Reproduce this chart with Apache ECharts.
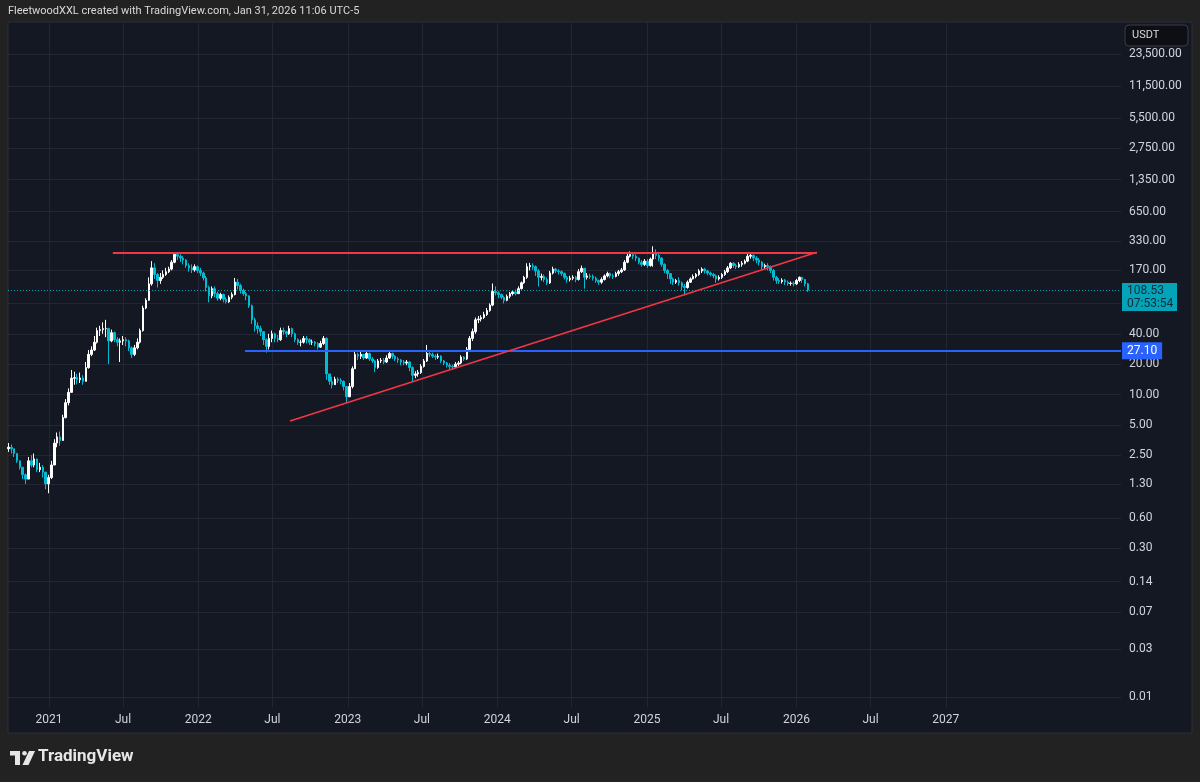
<!DOCTYPE html>
<html>
<head>
<meta charset="utf-8">
<title>SOL / USDT weekly</title>
<script src="https://cdn.jsdelivr.net/npm/echarts@6/dist/echarts.min.js"></script>
<style>
  html, body { margin: 0; padding: 0; background: #222222; }
  #main { width: 1200px; height: 782px; }
</style>
</head>
<body>
<div id="main"></div>
<script>
  // weekly candles, one per week starting from firstWeek (mid-week date)
  var firstWeek = '2020-09-24';
  var firstOpen = 2.9;
  var closes = [
    3.0, 2.9, 2.6, 2.2, 1.9, 1.6, 1.45, 2.2, 2.0, 2.3,
    1.8, 1.9, 1.7, 1.3, 1.5, 2.0, 3.3, 3.8, 3.5, 5.9,
    8.3, 10.5, 14.5, 14.7, 14.0, 14.6, 13.5, 18.5, 25, 27.6,
    33, 43, 44, 45, 45, 34, 41, 35, 33, 34,
    35, 34, 29, 25, 29, 33, 43, 72, 86, 125,
    180, 155, 135, 145, 155, 165, 175, 205, 245, 235,
    225, 215, 190, 180, 172, 185, 170, 160, 143, 115,
    95, 112, 100, 90, 98, 88, 83, 92, 98, 130,
    120, 108, 100, 95, 76, 55, 48, 45, 42, 35,
    30, 36, 40, 36, 35, 43, 42, 40, 45, 40,
    35, 33, 33, 36, 35, 33, 33, 32, 29.5, 32,
    36, 16, 13.5, 12.5, 14.2, 13.8, 13.5, 12, 9.5, 12,
    18, 25, 24, 25, 23, 25.5, 22.5, 21.5, 18.5, 21.5,
    21.8, 21, 23, 25.5, 24, 22.5, 22, 21, 20.5, 21,
    18.5, 15.5, 16, 16.5, 19, 21.5, 25.5, 25, 24, 23.5,
    24, 21.5, 20.5, 19.5, 19, 18.8, 20, 20.5, 23.5, 22.5,
    28, 36, 42, 55, 56, 58, 62, 68, 77, 105,
    102, 98, 92, 86, 94, 100, 104, 100, 112, 128,
    145, 185, 190, 185, 168, 145, 148, 138, 128, 160,
    175, 168, 165, 158, 145, 138, 142, 145, 138, 165,
    178, 145, 150, 148, 142, 135, 130, 138, 150, 158,
    150, 148, 158, 165, 172, 205, 235, 245, 235, 225,
    205, 195, 210, 190, 220, 255, 240, 225, 195, 170,
    158, 140, 130, 135, 128, 118, 115, 130, 140, 148,
    155, 168, 175, 168, 160, 155, 150, 140, 145, 155,
    165, 180, 200, 190, 185, 195, 200, 210, 235, 240,
    225, 215, 205, 185, 190, 185, 170, 145, 135, 132,
    136, 130, 126, 127, 125, 135, 145, 138, 125, 108.53
  ];
  var highs = [
    3.3, 3.2, 2.9, 2.6, 2.2, 1.9, 1.65, 2.4, 2.5, 2.6,
    2.3, 2.1, 2.0, 1.7, 1.6, 2.2, 3.6, 4.2, 4.3, 6.3,
    9.0, 11.5, 17.5, 16.8, 16, 16.5, 15.5, 21, 27.6, 30,
    38, 46, 48, 52, 55, 46, 44, 42, 37, 36,
    38, 37, 35, 30, 31, 36, 45, 76, 90, 145,
    210, 200, 160, 160, 170, 180, 185, 215, 258, 255,
    245, 235, 220, 200, 195, 195, 190, 180, 165, 150,
    120, 118, 118, 105, 102, 100, 92, 96, 103, 143,
    140, 125, 112, 104, 96, 78, 58, 52, 48, 42,
    36, 40, 43, 41, 39, 46, 46, 43, 48, 46,
    41, 36, 35, 38, 38, 36, 35, 34, 33, 34,
    38, 37, 16, 15, 15, 14.8, 14.5, 13.8, 12, 13,
    19, 26.5, 26, 26.5, 25, 27, 26, 23.5, 22, 22.5,
    23, 23, 24.5, 26.5, 26, 24.5, 23.5, 22.5, 22, 22,
    21.5, 19, 17, 17.5, 20, 22.5, 31, 27, 26, 25,
    25.5, 24.5, 22, 21, 20.5, 19.8, 21, 21.5, 24.5, 24,
    29.5, 38, 45, 58, 60, 61, 66, 72, 80, 126,
    118, 106, 100, 95, 98, 104, 108, 110, 118, 132,
    150, 200, 202, 200, 190, 175, 158, 155, 145, 168,
    185, 180, 175, 170, 162, 150, 150, 152, 150, 175,
    190, 180, 160, 158, 155, 148, 138, 145, 155, 165,
    162, 158, 165, 172, 180, 215, 248, 262, 255, 245,
    228, 215, 220, 220, 228, 295, 275, 250, 230, 200,
    175, 160, 145, 140, 145, 132, 125, 135, 145, 155,
    160, 175, 182, 180, 172, 165, 160, 155, 152, 160,
    172, 188, 205, 205, 198, 205, 210, 218, 250, 253,
    245, 235, 225, 210, 198, 200, 190, 175, 150, 142,
    142, 140, 135, 132, 132, 140, 148, 147, 140, 128
  ];
  var lows = [
    2.7, 2.6, 2.4, 2.1, 1.8, 1.45, 1.3, 1.45, 1.9, 1.9,
    1.7, 1.7, 1.5, 1.15, 1.05, 1.45, 2.0, 3.0, 3.1, 3.5,
    5.8, 7.8, 10.5, 12.5, 12.6, 13, 12.5, 13.5, 18, 24,
    27, 32, 38, 40, 37, 20, 33, 33, 30, 21,
    31, 30, 27, 23, 24, 28, 32, 42, 70, 85,
    120, 140, 115, 125, 140, 150, 160, 170, 200, 215,
    205, 195, 180, 165, 160, 165, 160, 150, 135, 105,
    82, 90, 92, 85, 86, 82, 80, 81, 88, 96,
    110, 100, 95, 86, 72, 50, 42, 40, 38, 31,
    26, 28, 33, 33, 33, 34, 39, 37, 39, 37,
    33, 31, 30, 32, 32, 31, 31, 30, 28, 29,
    31, 14, 12.5, 11.5, 12.5, 13, 12.6, 11, 8.2, 9.5,
    11.5, 18, 22, 22.5, 22, 22.5, 21.5, 20.5, 16.7, 18,
    20.5, 20, 20.5, 22.5, 22.5, 21.5, 20.5, 19.5, 19.5, 19.5,
    17, 13.3, 14.5, 15, 16, 18.5, 21, 23.5, 23, 22,
    22.5, 20.5, 19.5, 18.5, 17.5, 17.5, 18.3, 19.2, 20, 21.5,
    22, 27, 34, 40, 51, 53, 56, 60, 66, 75,
    96, 90, 88, 80, 84, 90, 96, 96, 100, 110,
    125, 140, 170, 172, 150, 118, 135, 130, 122, 125,
    155, 160, 155, 150, 138, 128, 132, 136, 130, 135,
    160, 112, 138, 140, 135, 128, 122, 125, 135, 145,
    142, 140, 145, 150, 160, 168, 200, 228, 220, 210,
    195, 185, 188, 180, 185, 185, 220, 210, 185, 160,
    140, 125, 122, 125, 120, 108, 96, 112, 128, 138,
    142, 150, 160, 158, 152, 148, 142, 128, 135, 140,
    150, 160, 175, 180, 175, 180, 185, 195, 205, 222,
    210, 200, 190, 170, 175, 170, 160, 135, 125, 125,
    126, 122, 120, 120, 118, 122, 130, 128, 118, 104
  ];

  // price scale ticks (log)
  var priceTicks = [0.01, 0.03, 0.07, 0.14, 0.3, 0.6, 1.3, 2.5, 5, 10, 20, 40, 80,
    170, 330, 650, 1350, 2750, 5500, 11500, 23500];
  var priceTickLabels = ['0.01', '0.03', '0.07', '0.14', '0.30', '0.60', '1.30', '2.50', '5.00',
    '10.00', '20.00', '40.00', '', '170.00', '330.00', '650.00', '1,350.00', '2,750.00',
    '5,500.00', '11,500.00', '23,500.00'];
  // time scale ticks
  var timeTicks = ['2021-01-01', '2021-07-01', '2022-01-01', '2022-07-01', '2023-01-01', '2023-07-01',
    '2024-01-01', '2024-07-01', '2025-01-01', '2025-07-01', '2026-01-01', '2026-07-01', '2027-01-01'];
  var timeTickLabels = ['2021', 'Jul', '2022', 'Jul', '2023', 'Jul', '2024', 'Jul', '2025', 'Jul',
    '2026', 'Jul', '2027'];

  var lastPrice = 108.53;
  var countdown = '07:53:54';
  var supportLevel = 27.10;
  var supportStart = '2022-04-25';
  var resistanceLevel = 256.8;
  var resistanceStart = '2021-06-06';
  var apexDate = '2026-02-20';
  var trendStart = ['2022-08-13', 5.46];

  var viewStart = '2020-09-23';
  var viewEnd = '2028-03-04';

  function t(s) { return new Date(s + 'T00:00:00Z').getTime(); }
  var dayMs = 86400000;

  var candles = [];
  var prev = firstOpen;
  var t0 = t(firstWeek);
  for (var i = 0; i < closes.length; i++) {
    candles.push([t0 + i * 7 * dayMs, prev, closes[i], lows[i], highs[i]]);
    prev = closes[i];
  }

  var hLines = priceTicks.map(function (v, k) {
    return { yAxis: v, label: { show: priceTickLabels[k] !== '', formatter: priceTickLabels[k] } };
  });
  var vLines = timeTicks.map(function (s, k) {
    return { xAxis: t(s), label: { formatter: timeTickLabels[k] } };
  });

  var gridColor = '#232735';
  var textColor = '#d1d4dc';
  var FONT = 'Roboto, "Liberation Sans", sans-serif';

  var myChart = echarts.init(document.getElementById('main'));

  var option = {
    backgroundColor: '#222222',
    animation: false,
    textStyle: { fontFamily: FONT },
    graphic: [
      { type: 'rect', z: -10, silent: true,
        shape: { x: 8, y: 22, width: 1184, height: 711 },
        style: { fill: '#141823', stroke: '#2c2f38', lineWidth: 1 } },
      { type: 'text', z: 100, left: 8, top: 6,
        style: { text: 'FleetwoodXXL created with TradingView.com, Jan 31, 2026 11:06 UTC-5',
          fill: '#d9d9d9', font: '11px ' + FONT } },
      { type: 'rect', z: 100, shape: { x: 1125, y: 25, width: 63, height: 21, r: 4 },
        style: { fill: '#0d0f14', stroke: '#3a3d47', lineWidth: 1 } },
      { type: 'text', z: 101, left: 1132, top: 30,
        style: { text: 'USDT', fill: '#d9d9d9', font: '11px ' + FONT } },
      // TradingView logo
      { type: 'polygon', z: 100, shape: { points: [[10, 751], [20, 751], [20, 765], [15, 765], [15, 755.5], [10, 755.5]] },
        style: { fill: '#e6e6e6' } },
      { type: 'circle', z: 100, shape: { cx: 24.5, cy: 753.2, r: 2.3 }, style: { fill: '#e6e6e6' } },
      { type: 'polygon', z: 100, shape: { points: [[29, 751], [35, 751], [28.5, 765], [22.5, 765]] },
        style: { fill: '#e6e6e6' } },
      { type: 'text', z: 100, left: 38, top: 748,
        style: { text: 'TradingView', fill: '#e6e6e6', font: 'bold 17px ' + FONT } }
    ],
    grid: { left: 8, right: 79, top: 23, bottom: 75 },
    xAxis: {
      type: 'time',
      min: t(viewStart),
      max: t(viewEnd),
      axisLine: { show: false },
      axisTick: { show: false },
      axisLabel: { show: false },
      splitLine: { show: false }
    },
    yAxis: {
      type: 'log',
      logBase: 10,
      min: 0.00798,
      max: 48200,
      axisLine: { show: false },
      axisTick: { show: false },
      axisLabel: { show: false },
      splitLine: { show: false },
      minorSplitLine: { show: false }
    },
    series: [
      {
        name: 'priceGrid', type: 'line', data: [], silent: true,
        markLine: {
          silent: true, z: 1, symbol: 'none',
          lineStyle: { color: gridColor, width: 1, type: 'solid' },
          label: { position: 'end', distance: 8, color: textColor, fontSize: 12, fontFamily: FONT },
          emphasis: { disabled: true },
          data: hLines
        }
      },
      {
        name: 'timeGrid', type: 'line', data: [], silent: true,
        markLine: {
          silent: true, z: 1, symbol: 'none',
          lineStyle: { color: gridColor, width: 1, type: 'solid' },
          label: { position: 'start', distance: 7, color: textColor, fontSize: 12, fontFamily: FONT },
          emphasis: { disabled: true },
          data: vLines
        }
      },
      {
        name: 'SOLUSDT', type: 'candlestick', z: 2,
        barWidth: 2,
        itemStyle: {
          color: '#ffffff', color0: '#00bcd4',
          borderColor: '#ffffff', borderColor0: '#00bcd4', borderWidth: 1
        },
        data: candles
      },
      {
        name: 'drawings', type: 'line', data: [], silent: true,
        markLine: {
          silent: true, z: 6, symbol: 'none',
          label: { show: false },
          emphasis: { disabled: true },
          data: [
            { yAxis: lastPrice,
              lineStyle: { color: '#00bcd4', type: [1, 2], width: 1, opacity: 0.85 },
              label: {
                show: true, position: 'end', distance: 1,
                formatter: '{gap|}\n{p|' + lastPrice.toFixed(2) + '}\n{c|' + countdown + '}',
                rich: {
                  gap: { height: 14 },
                  p: { backgroundColor: '#00bcd4', color: '#131722', width: 46, height: 13,
                    padding: [1, 4, 0, 5], fontSize: 12, fontFamily: FONT },
                  c: { backgroundColor: '#00bcd4', color: '#131722', width: 46, height: 13,
                    padding: [0, 4, 1, 5], fontSize: 12, fontFamily: FONT }
                }
              } },
            [
              { coord: [t(supportStart), supportLevel],
                lineStyle: { color: '#2962ff', width: 2, type: 'solid' },
                label: { show: true, position: 'end', distance: 1, formatter: supportLevel.toFixed(2),
                  backgroundColor: '#2962ff', color: '#ffffff', padding: [3, 5, 2, 5],
                  fontSize: 12, fontFamily: FONT } },
              { coord: [t(viewEnd), supportLevel] }
            ],
            [
              { coord: [t(resistanceStart), resistanceLevel],
                lineStyle: { color: '#f23645', width: 2, type: 'solid' } },
              { coord: [t(apexDate), resistanceLevel] }
            ],
            [
              { coord: [t(trendStart[0]), trendStart[1]],
                lineStyle: { color: '#f23645', width: 1.6, type: 'solid' } },
              { coord: [t(apexDate), resistanceLevel] }
            ]
          ]
        }
      }
    ]
  };

  myChart.setOption(option);
  window.onresize = function () {
    myChart.resize();
  };
</script>
</body>
</html>
